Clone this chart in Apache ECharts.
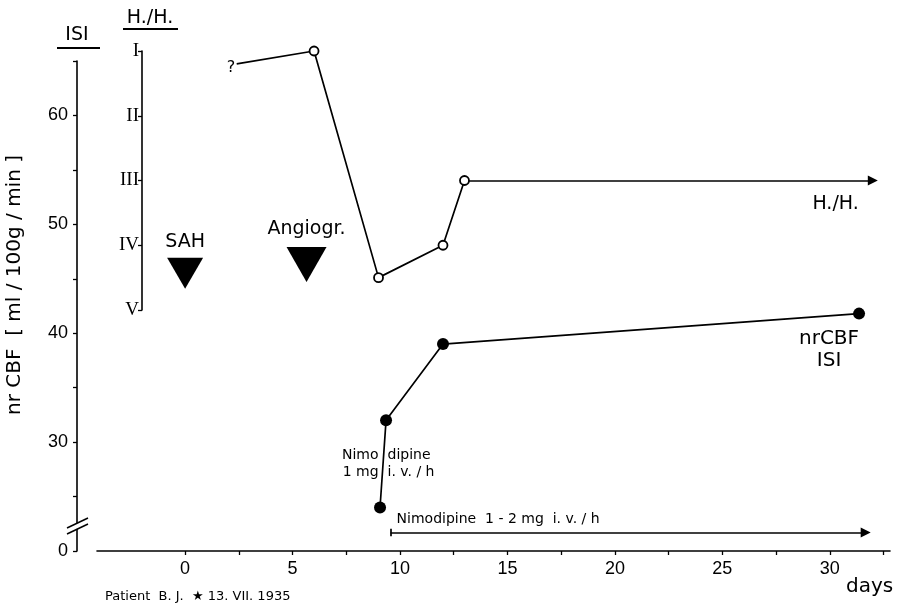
<!DOCTYPE html>
<html><head><meta charset="utf-8">
<script src="https://cdn.jsdelivr.net/npm/echarts@6/dist/echarts.min.js"></script>
<style>html,body{margin:0;padding:0;background:#fff}#c{width:902px;height:610px}</style>
</head><body><div id="c"></div>
<script>
// ---------------- data ----------------
const xLabelValues = [0, 5, 10, 15, 20, 25, 30];
const xTickValues = [0, 2.5, 5, 7.5, 10, 12.5, 15, 17.5, 20, 22.5, 25, 27.5, 30, 32.5];
const isiTickValues = [20, 25, 30, 35, 40, 45, 50, 55, 60, 65];
const isiLabelValues = [20, 30, 40, 50, 60];
const isiLabelTexts = ['0', '30', '40', '50', '60'];   // axis is broken: bottom shown as 0
const hhGradeLabels = ['I', 'II', 'III', 'IV', 'V'];

// Hunt & Hess grade (open circles); first point is the uncertain "?"
const hhDays = [2.4, 6, 9, 12, 13];
const hhGrades = [1.2, 1, 4.5, 4, 3];
const hhContinuesToDay = 32.0;

// nrCBF ISI (filled circles)
const isiDays = [9.07, 9.35, 12, 31.36];
const isiValues = [24, 32, 39, 41.8];

// events
const eventDays = [0, 5.65];
const eventNames = ['SAH', 'Angiogr.'];

// nimodipine infusion period (days)
const nimoInfusionDays = [9.56, 31.67];

// ---------------- layout ----------------
const FONT = "'DejaVu Sans', sans-serif";
const NUMFONT = "'Liberation Sans', Arial, sans-serif";
const GRID_LEFT = 97, GRID_RIGHT = 12, GRID_TOP = 61, GRID_BOTTOM = 59;
const ISI_OFFSET = 20, HH_OFFSET = -45;
const HH_TOP = 51, HH_HEIGHT = 259;
const X_MIN = -4.1, X_MAX = 32.8;
const EVENT_LEVEL = [45.5, 46.3];
const EVENT_SIZE = [[36, 31], [40, 35]];
const EVENT_LABEL_GAP = [6, 9];
const NIMO_LEVEL = 21.7;
const BREAK_AT = 22.3;
const LW = 1.7;

const chart = echarts.init(document.getElementById('c'), null, {renderer: 'canvas'});

const black = '#000';
const xAxisBase = {
  type: 'value', min: X_MIN, max: X_MAX,
  splitLine: {show: false}
};

const option = {
  backgroundColor: '#fff',
  animation: false,
  textStyle: {fontFamily: FONT, color: black},
  grid: [
    {left: GRID_LEFT, right: GRID_RIGHT, top: GRID_TOP, bottom: GRID_BOTTOM, outerBoundsMode: 'none', containLabel: false},
    {left: GRID_LEFT, right: GRID_RIGHT, top: HH_TOP, height: HH_HEIGHT, outerBoundsMode: 'none', containLabel: false}
  ],
  xAxis: [
    Object.assign({}, xAxisBase, {
      gridIndex: 0,
      axisLine: {show: true, onZero: false, lineStyle: {color: black, width: 1.6}},
      axisTick: {show: true, length: 4, lineStyle: {color: black, width: 1.3}, customValues: xTickValues},
      axisLabel: {show: true, customValues: xLabelValues, fontFamily: NUMFONT, fontSize: 18, color: black, margin: 9}
    }),
    Object.assign({}, xAxisBase, {gridIndex: 1, show: false})
  ],
  yAxis: [
    {
      type: 'value', gridIndex: 0, min: 20, max: 65, position: 'left', offset: ISI_OFFSET,
      name: 'nr CBF  [ ml / 100g / min ]', nameLocation: 'middle', nameGap: 52, nameRotate: 90,
      nameTextStyle: {fontFamily: FONT, fontSize: 20, color: black, padding: [0, 0, 0, 42]},
      splitLine: {show: false},
      axisLine: {show: true, onZero: false, lineStyle: {color: black, width: 1.6}},
      axisTick: {show: true, length: 4, lineStyle: {color: black, width: 1.3}, customValues: isiTickValues},
      axisLabel: {show: true, customValues: isiLabelValues, fontFamily: NUMFONT, fontSize: 18, color: black, margin: 9,
        formatter: v => isiLabelTexts[isiLabelValues.indexOf(v)]}
    },
    {
      type: 'value', gridIndex: 1, min: 1, max: 5, interval: 1, inverse: true, position: 'left', offset: HH_OFFSET,
      splitLine: {show: false},
      axisLine: {show: true, onZero: false, lineStyle: {color: black, width: 1.6}},
      axisTick: {show: true, length: 4, lineStyle: {color: black, width: 1.3}},
      axisLabel: {show: true, fontFamily: "'Liberation Serif', 'DejaVu Serif', serif", fontSize: 19, color: black, margin: 3,
        formatter: v => hhGradeLabels[Math.round(v) - 1]}
    }
  ],
  series: [
    {
      name: 'H./H.', type: 'line', xAxisIndex: 1, yAxisIndex: 1, z: 3,
      symbol: 'circle', symbolSize: 9,
      itemStyle: {color: '#fff', borderColor: black, borderWidth: 1.8},
      lineStyle: {color: black, width: LW},
      data: hhDays.map((d, i) => i === 0
        ? {value: [d, hhGrades[i]], symbol: 'none'}
        : {value: [d, hhGrades[i]]}),
      markPoint: {
        silent: true, animation: false,
        symbol: 'circle', symbolSize: 1, itemStyle: {color: 'transparent'},
        data: [{coord: [hhDays[0], hhGrades[0]],
          label: {show: true, formatter: '?', position: 'left', distance: 1, fontFamily: FONT, fontSize: 16, color: black, offset: [0, 4]}}]
      },
      markLine: {
        silent: true, z: 1, animation: false,
        symbol: ['none', 'triangle'], symbolSize: 10,
        lineStyle: {color: black, width: LW, type: 'solid'},
        label: {show: true, position: 'insideEndBottom', formatter: 'H./H.', fontFamily: FONT, fontSize: 19, color: black, distance: 14},
        emphasis: {disabled: true},
        data: [[
          {coord: [hhDays[hhDays.length - 1], hhGrades[hhGrades.length - 1]]},
          {coord: [hhContinuesToDay, hhGrades[hhGrades.length - 1]]}
        ]]
      }
    },
    {
      name: 'nrCBF ISI', type: 'line', xAxisIndex: 0, yAxisIndex: 0, z: 3,
      symbol: 'circle', symbolSize: 12,
      itemStyle: {color: black},
      lineStyle: {color: black, width: LW},
      data: isiDays.map((d, i) => i === isiDays.length - 1
        ? {value: [d, isiValues[i]],
           label: {show: true, position: 'bottom', distance: 8, offset: [-30, 0], formatter: 'nrCBF\nISI',
                   fontFamily: FONT, fontSize: 20, lineHeight: 22, color: black, align: 'center'}}
        : {value: [d, isiValues[i]]}),
      markLine: {
        silent: true, animation: false,
        symbol: ['none', 'triangle'], symbolSize: 10,
        lineStyle: {color: black, width: LW, type: 'solid'},
        emphasis: {disabled: true},
        label: {show: true, position: 'insideStartTop', formatter: 'Nimodipine  1 - 2 mg  i. v. / h',
                fontFamily: FONT, fontSize: 14, color: black, distance: 6, offset: [0, 0]},
        data: [
          [{coord: [nimoInfusionDays[0], NIMO_LEVEL]}, {coord: [nimoInfusionDays[1], NIMO_LEVEL]}],
          [{coord: [nimoInfusionDays[0], NIMO_LEVEL - 0.35], symbol: 'none'},
           {coord: [nimoInfusionDays[0], NIMO_LEVEL + 0.35], symbol: 'none', label: {show: false}}]
        ]
      },
      markPoint: {
        silent: true, animation: false,
        symbol: 'circle', symbolSize: 1, itemStyle: {color: 'transparent'},
        data: [
          {coord: [(isiDays[0] + isiDays[1]) / 2, (isiValues[0] + isiValues[1]) / 2],
           label: {show: true, position: 'left', distance: 4, formatter: 'Nimo\n1 mg', fontFamily: FONT, fontSize: 14, lineHeight: 17, color: black}},
          {coord: [(isiDays[0] + isiDays[1]) / 2, (isiValues[0] + isiValues[1]) / 2],
           label: {show: true, position: 'right', distance: 4, formatter: 'dipine\ni. v. / h', fontFamily: FONT, fontSize: 14, lineHeight: 17, color: black}}
        ]
      }
    },
    {
      name: 'events', type: 'scatter', xAxisIndex: 0, yAxisIndex: 0, z: 2,
      symbol: 'triangle', symbolRotate: 180,
      itemStyle: {color: black, opacity: 1},
      label: {show: true, position: 'top', fontFamily: FONT, fontSize: 19, color: black, opacity: 1,
              formatter: p => eventNames[p.dataIndex]},
      data: eventDays.map((d, i) => ({value: [d, EVENT_LEVEL[i]], symbolSize: EVENT_SIZE[i],
        label: {distance: EVENT_LABEL_GAP[i]}}))
    }
  ]
};
chart.setOption(option);

// ---------------- decorations (titles, axis break, footnote) ----------------
const isiAxisX = GRID_LEFT - ISI_OFFSET;
const hhAxisX = GRID_LEFT - HH_OFFSET;
const breakY = chart.convertToPixel({yAxisIndex: 0}, BREAK_AT);
const line = (x1, y1, x2, y2, w) => ({type: 'line', silent: true, shape: {x1, y1, x2, y2}, style: {stroke: black, lineWidth: w || 1.5}});
chart.setOption({
  graphic: [
    {type: 'text', silent: true, x: isiAxisX, y: GRID_TOP - 26, style: {text: 'ISI', fontFamily: FONT, fontSize: 19, fill: black, align: 'center', verticalAlign: 'middle'}},
    line(isiAxisX - 20, GRID_TOP - 13, isiAxisX + 23, GRID_TOP - 13, 1.8),
    {type: 'text', silent: true, x: hhAxisX + 8, y: HH_TOP - 33, style: {text: 'H./H.', fontFamily: FONT, fontSize: 19, fill: black, align: 'center', verticalAlign: 'middle'}},
    line(hhAxisX - 19, HH_TOP - 22, hhAxisX + 36, HH_TOP - 22, 1.8),
    {type: 'rect', silent: true, shape: {x: isiAxisX - 3, y: breakY - 3, width: 6, height: 6}, style: {fill: '#fff'}, z: 100},
    Object.assign(line(isiAxisX - 10, breakY + 2, isiAxisX + 11, breakY - 8), {z: 101}),
    Object.assign(line(isiAxisX - 10, breakY + 8, isiAxisX + 11, breakY - 2), {z: 101}),
    {type: 'text', silent: true, x: 846, y: 587, style: {text: 'days', fontFamily: FONT, fontSize: 20, fill: black, align: 'left', verticalAlign: 'middle'}},
    {type: 'text', silent: true, x: 105, y: 597, style: {text: 'Patient  B. J.  \u2605 13. VII. 1935', fontFamily: FONT, fontSize: 13, fill: black, align: 'left', verticalAlign: 'middle'}}
  ]
});
</script></body></html>
